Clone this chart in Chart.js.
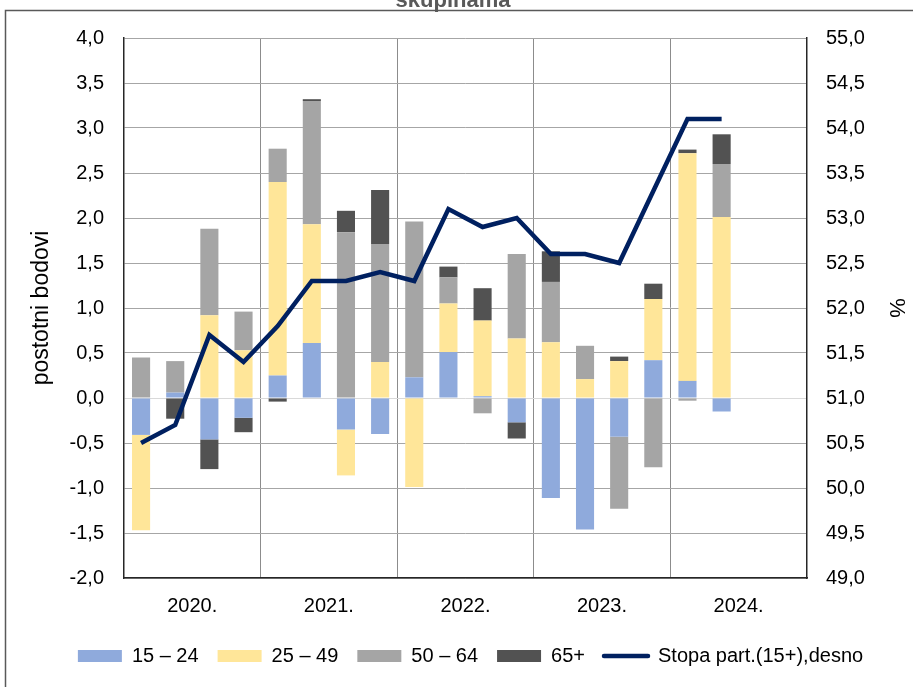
<!DOCTYPE html>
<html>
<head>
<meta charset="utf-8">
<script src="https://cdn.jsdelivr.net/npm/chart.js@4.4.1/dist/chart.umd.min.js"></script>
<style>
html,body{margin:0;padding:0;background:#fff;}
#wrap{width:913px;height:687px;position:relative;}
</style>
</head>
<body>
<div id="wrap"><canvas id="c" width="913" height="687"></canvas></div>
<script>
const categories = ['2020 Q1','2020 Q2','2020 Q3','2020 Q4','2021 Q1','2021 Q2','2021 Q3','2021 Q4','2022 Q1','2022 Q2','2022 Q3','2022 Q4','2023 Q1','2023 Q2','2023 Q3','2023 Q4','2024 Q1','2024 Q2','2024 Q3','2024 Q4'];
const yearLabels = ['2020.','2021.','2022.','2023.','2024.'];
const s15_24 = [-0.41, 0.06, -0.46, -0.22, 0.25, 0.61, -0.35, -0.40, 0.23, 0.51, 0.02, -0.27, -1.11, -1.46, -0.43, 0.42, 0.19, -0.15, null, null];
const s25_49 = [-1.06, 0, 0.92, 0.53, 2.15, 1.32, -0.51, 0.40, -0.99, 0.54, 0.84, 0.66, 0.62, 0.21, 0.41, 0.68, 2.53, 2.01, null, null];
const s50_64 = [0.45, 0.35, 0.96, 0.43, 0.37, 1.37, 1.84, 1.31, 1.73, 0.29, -0.17, 0.94, 0.67, 0.37, -0.80, -0.77, -0.03, 0.59, null, null];
const s65 = [0, -0.23, -0.33, -0.16, -0.04, 0.02, 0.24, 0.60, 0, 0.12, 0.36, -0.18, 0.34, 0, 0.05, 0.17, 0.04, 0.33, null, null];
const stopa = [50.5, 50.7, 51.7, 51.4, 51.8, 52.3, 52.3, 52.4, 52.3, 53.1, 52.9, 53.0, 52.6, 52.6, 52.5, 53.3, 54.1, 54.1, null, null];
const seriesNames = ['15 \u2013 24','25 \u2013 49','50 \u2013 64','65+','Stopa part.(15+),desno'];

const FONT = "'Liberation Sans Narrow', 'Arial Narrow', 'Liberation Sans', Arial, sans-serif";
const fmt = v => Number(v).toFixed(1).replace('.', ',');

const bgPlugin = {
  id: 'bg',
  beforeDraw(chart) {
    const c = chart.ctx;
    c.save();
    c.fillStyle = '#ffffff';
    c.fillRect(0, 0, chart.width, chart.height);
    c.strokeStyle = '#595959';
    c.lineWidth = 1.5;
    c.strokeRect(5.5, 10.5, chart.width + 10, chart.height + 10);
    c.fillStyle = '#595959';
    c.font = "bold 22px 'Liberation Sans', Arial, sans-serif";
    c.textAlign = 'center';
    c.textBaseline = 'alphabetic';
    c.fillText('skupinama', 453, 7);
    c.restore();
  }
};

const barDs = (label, data, color) => ({
  type: 'bar', label, data, backgroundColor: color, borderWidth: 0,
  yAxisID: 'y', stack: 's', order: 2,
  barPercentage: 0.53, categoryPercentage: 1.0
});

new Chart(document.getElementById('c'), {
  data: {
    labels: categories,
    datasets: [
      barDs(seriesNames[0], s15_24, '#8faadc'),
      barDs(seriesNames[1], s25_49, '#ffe699'),
      barDs(seriesNames[2], s50_64, '#a5a5a5'),
      barDs(seriesNames[3], s65, '#525252'),
      {
        type: 'line', label: seriesNames[4], data: stopa, yAxisID: 'y1',
        borderColor: '#002060', backgroundColor: '#002060', borderWidth: 4.5,
        pointRadius: 0, tension: 0, order: 0, spanGaps: false,
        borderJoinStyle: 'miter'
      }
    ]
  },
  options: {
    responsive: false,
    animation: false,
    devicePixelRatio: 1,
    layout: { padding: { top: 38, left: 28, right: 0, bottom: 11 } },
    plugins: {
      tooltip: { enabled: false },
      legend: {
        position: 'bottom',
        labels: {
          font: { family: FONT, size: 20 },
          color: '#000',
          usePointStyle: true,
          pointStyleWidth: 44,
          boxHeight: 12,
          padding: 19,
          generateLabels(chart) {
            return chart.data.datasets.map((ds, i) => ({
              text: ds.label,
              fillStyle: ds.type === 'line' ? ds.borderColor : ds.backgroundColor,
              strokeStyle: ds.type === 'line' ? ds.borderColor : ds.backgroundColor,
              lineWidth: ds.type === 'line' ? 4.5 : 0,
              lineCap: 'round',
              pointStyle: ds.type === 'line' ? 'line' : 'rect',
              hidden: false,
              datasetIndex: i,
              fontColor: '#000'
            }));
          }
        }
      }
    },
    scales: {
      x: {
        stacked: true,
        offset: true,
        grid: {
          offset: true,
          drawTicks: false,
          lineWidth: 1,
          color: ctx => (ctx.index > 0 && ctx.index < 20 && ctx.index % 4 === 0) ? '#8c8c8c' : 'rgba(0,0,0,0)'
        },
        border: { display: true, color: '#262626', width: 1.5 },
        ticks: {
          autoSkip: false, maxRotation: 0, minRotation: 0,
          padding: 16, labelOffset: 17,
          font: { family: FONT, size: 20 }, color: '#000',
          callback: (v, i) => (i % 4 === 1 ? yearLabels[Math.floor(i / 4)] : '')
        },
        afterFit: s => { s.height = 49; }
      },
      y: {
        stacked: true,
        position: 'left',
        min: -2, max: 4,
        ticks: {
          stepSize: 0.5, padding: 20,
          font: { family: FONT, size: 20 }, color: '#000',
          callback: v => fmt(v)
        },
        grid: {
          drawTicks: false, lineWidth: 1,
          color: ctx => (ctx.tick && ctx.tick.value === 0) ? '#d9d9d9' : '#a6a6a6'
        },
        border: { display: true, color: '#262626', width: 1.5 },
        title: {
          display: true, text: 'postotni bodovi',
          font: { family: FONT, size: 23 }, color: '#000',
          padding: { top: 0, bottom: 0 }
        },
        afterFit: s => { s.width = 96; }
      },
      y1: {
        stacked: false,
        position: 'right',
        min: 49, max: 55,
        ticks: {
          stepSize: 0.5, padding: 19,
          font: { family: FONT, size: 20 }, color: '#000',
          callback: v => fmt(v)
        },
        grid: { display: false, drawTicks: false },
        border: { display: true, color: '#262626', width: 1.5 },
        title: {
          display: true, text: '%',
          font: { family: FONT, size: 22 }, color: '#000',
          padding: { top: 4, bottom: 0 }
        },
        afterFit: s => { s.width = 106; }
      }
    }
  },
  plugins: [bgPlugin]
});
</script>
</body>
</html>
